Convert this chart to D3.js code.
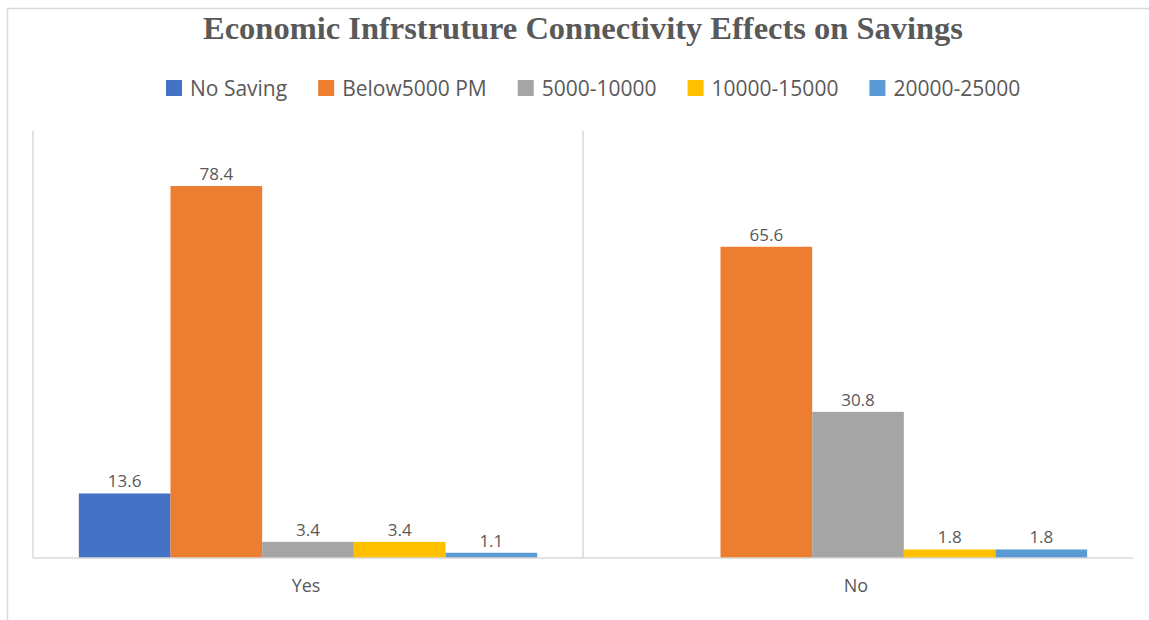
<!DOCTYPE html>
<html>
<head>
<meta charset="utf-8">
<script src="https://cdn.jsdelivr.net/npm/d3@7"></script>
<style>
  body { margin: 0; background: #fff; }
  svg { display: block; }
</style>
</head>
<body>
<svg id="chart"></svg>
<script>
// data
const categories = ["Yes", "No"];
const seriesNames = ["No Saving", "Below5000 PM", "5000-10000", "10000-15000", "20000-25000"];
const seriesColors = ["#4472C4", "#ED7D31", "#A5A5A5", "#FFC000", "#5B9BD5"];
const valuesYes = [13.6, 78.4, 3.4, 3.4, 1.1];
const valuesNo = [null, 65.6, 30.8, 1.8, 1.8];
const chartTitle = "Economic Infrstruture Connectivity Effects on Savings";

const width = 1149;
const height = 620;
const plot = {left: 33, right: 1133, top: 131, bottom: 558};

const svg = d3.select('svg#chart')
  .attr('width', width)
  .attr('height', height);

// chart area border
svg.append('rect')
  .attr('x', 7.5).attr('y', 8.5)
  .attr('width', width + 10).attr('height', height + 10)
  .attr('fill', 'none')
  .attr('stroke', '#d9d9d9')
  .attr('stroke-width', 1.5);

// title
svg.append('text')
  .attr('x', 583)
  .attr('y', 39)
  .attr('text-anchor', 'middle')
  .attr('font-family', '"Liberation Serif", "Times New Roman", serif')
  .attr('font-weight', 'bold')
  .attr('font-size', 31)
  .attr('fill', '#595959')
  .attr('textLength', 760)
  .attr('lengthAdjust', 'spacingAndGlyphs')
  .text(chartTitle);

// scales
const x0 = d3.scaleBand()
  .domain(categories)
  .range([plot.left, plot.right])
  .padding(0);

const x1 = d3.scaleBand()
  .domain(seriesNames)
  .range([0, x0.bandwidth()])
  .paddingInner(0)
  .paddingOuter(0.5);

const y = d3.scaleLinear()
  .domain([0, 90])
  .range([plot.bottom, plot.top]);

const color = d3.scaleOrdinal().domain(seriesNames).range(seriesColors);

// category separators (only the first two show in the picture)
const graph = svg.append('g');
graph.selectAll('line.sep')
  .data(categories)
  .enter()
  .append('line')
    .attr('class', 'sep')
    .attr('x1', d => x0(d)).attr('x2', d => x0(d))
    .attr('y1', plot.top).attr('y2', plot.bottom)
    .attr('stroke', '#d9d9d9')
    .attr('stroke-width', 1.5);

const table = categories.map((c, i) => ({
  cat: c,
  vals: seriesNames.map((s, j) => ({name: s, value: (i === 0 ? valuesYes : valuesNo)[j]}))
}));

const groups = graph.selectAll('g.cat')
  .data(table)
  .enter()
  .append('g')
    .attr('class', 'cat')
    .attr('transform', d => `translate(${x0(d.cat)},0)`);

groups.selectAll('rect')
  .data(d => d.vals.filter(v => v.value != null))
  .enter()
  .append('rect')
    .attr('x', d => x1(d.name))
    .attr('width', x1.bandwidth())
    .attr('y', d => y(d.value))
    .attr('height', d => y(0) - y(d.value))
    .attr('fill', d => color(d.name));

groups.selectAll('text.lbl')
  .data(d => d.vals.filter(v => v.value != null))
  .enter()
  .append('text')
    .attr('class', 'lbl')
    .attr('x', d => x1(d.name) + x1.bandwidth() / 2)
    .attr('y', d => y(d.value) - 6)
    .attr('text-anchor', 'middle')
    .attr('font-family', '"Open Sans", sans-serif')
    .attr('font-size', 17)
    .attr('fill', '#595959')
    .text(d => d.value.toFixed(1));

// baseline
graph.append('line')
  .attr('x1', plot.left).attr('x2', plot.right)
  .attr('y1', plot.bottom).attr('y2', plot.bottom)
  .attr('stroke', '#d9d9d9')
  .attr('stroke-width', 1.5);

// category axis labels
graph.selectAll('text.cat')
  .data(categories)
  .enter()
  .append('text')
    .attr('class', 'cat')
    .attr('x', d => x0(d) + x0.bandwidth() / 2 - 2)
    .attr('y', 592)
    .attr('text-anchor', 'middle')
    .attr('font-family', '"Open Sans", sans-serif')
    .attr('font-size', 18)
    .attr('fill', '#595959')
    .text(d => d);

// legend
const legend = svg.append('g');
let lx = 166;
seriesNames.forEach(function(s) {
  legend.append('rect')
    .attr('x', lx).attr('y', 80)
    .attr('width', 16).attr('height', 16)
    .attr('fill', color(s));
  const t = legend.append('text')
    .attr('x', lx + 24)
    .attr('y', 96)
    .attr('font-family', '"Open Sans", sans-serif')
    .attr('font-size', 21)
    .attr('fill', '#595959')
    .text(s);
  lx += 24 + t.node().getComputedTextLength() + 31;
});
</script>
</body>
</html>
